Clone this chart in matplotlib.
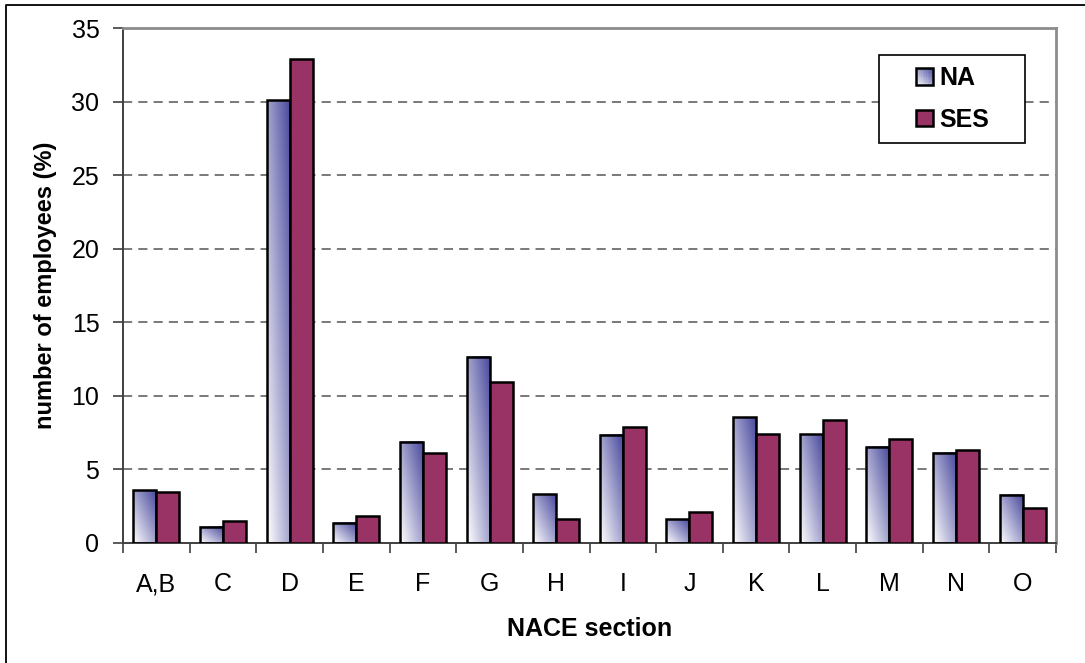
import numpy as np
import matplotlib
matplotlib.use("Agg")
import matplotlib.pyplot as plt
from matplotlib.colors import LinearSegmentedColormap
from matplotlib.patches import Rectangle
from matplotlib.lines import Line2D
from matplotlib.legend_handler import HandlerBase

plt.rcParams["font.family"] = ["Liberation Sans", "DejaVu Sans"]

# ─── Data ─────────────────────────────────────────────────────────────────────
sections = ["A,B", "C", "D", "E", "F", "G", "H", "I", "J", "K", "L", "M", "N", "O"]
na_vals  = [3.6, 1.1, 30.1, 1.38, 6.89, 12.67, 3.31, 7.35, 1.6, 8.55, 7.4, 6.53, 6.12, 3.27]
ses_vals = [3.48, 1.5, 32.9, 1.84, 6.1, 10.95, 1.65, 7.87, 2.1, 7.4, 8.37, 7.05, 6.33, 2.38]
series_names = ["NA", "SES"]

SES_COLOR = "#993366"
NA_CMAP = LinearSegmentedColormap.from_list("na_grad", ["#ffffff", "#4a4a9e"])
BAR_W = 0.345
EDGE_W = 1.8

# diagonal gradient: white bottom-left -> blue top-right
gu, gv = np.meshgrid(np.linspace(0, 1, 64), np.linspace(0, 1, 64))
GRAD = (gu + gv) / 2


def _square(xdescent, ydescent, width, height):
    # square marker sits at the right end of the handle box
    side = height * 0.95
    return -xdescent + width - side, -ydescent + (height - side) / 2, side


class GradientHandler(HandlerBase):
    def create_artists(self, legend, orig_handle, xdescent, ydescent,
                       width, height, fontsize, trans):
        x0, y0, side = _square(xdescent, ydescent, width, height)
        n = 10
        arts = []
        for i in range(n):
            for j in range(n):
                t = ((i + 0.5) / n + (j + 0.5) / n) / 2
                arts.append(Rectangle((x0 + i * side / n, y0 + j * side / n),
                                      side / n, side / n, facecolor=NA_CMAP(t),
                                      edgecolor="none", transform=trans))
        arts.append(Rectangle((x0, y0), side, side, facecolor="none",
                              edgecolor="black", linewidth=EDGE_W, transform=trans))
        return arts


class SquareHandler(HandlerBase):
    def create_artists(self, legend, orig_handle, xdescent, ydescent,
                       width, height, fontsize, trans):
        x0, y0, side = _square(xdescent, ydescent, width, height)
        return [Rectangle((x0, y0), side, side, facecolor=SES_COLOR,
                          edgecolor="black", linewidth=EDGE_W, transform=trans)]


fig = plt.figure(figsize=(10.85, 6.63), dpi=100)
ax = fig.add_axes([123 / 1085, 120 / 663, (1056 - 123) / 1085, (543 - 28) / 663])

x = np.arange(len(sections))

for xi, h in zip(x, na_vals):
    ax.imshow(GRAD, cmap=NA_CMAP, vmin=0, vmax=1, origin="lower",
              extent=(xi - BAR_W, xi, 0, h), aspect="auto",
              interpolation="bilinear", zorder=2)
ax.bar(x - BAR_W / 2, na_vals, BAR_W, facecolor="none", edgecolor="black",
       linewidth=EDGE_W, zorder=3)
ax.bar(x + BAR_W / 2, ses_vals, BAR_W, facecolor=SES_COLOR, edgecolor="black",
       linewidth=EDGE_W, zorder=3)

ax.set_xlim(-0.5, len(sections) - 0.5)
ax.set_ylim(0, 35)
ax.set_yticks(range(0, 36, 5))
ax.tick_params(axis="y", labelsize=18, length=7, width=1.2, color="#404040", pad=10)

ax.set_xticks(x)
ax.set_xticklabels(sections, fontsize=18)
ax.set_xticks(np.arange(-0.5, len(sections)), minor=True)
ax.tick_params(axis="x", which="major", length=0, pad=21)
ax.tick_params(axis="x", which="minor", length=7, width=1.2, color="#404040")

ax.set_xlabel("NACE section", fontsize=18, fontweight="bold", labelpad=15)
ax.set_ylabel("number of employees (%)", fontsize=17, fontweight="bold", labelpad=10)

for yv in range(5, 35, 5):
    ax.axhline(yv, color="#555555", linewidth=1.1, linestyle=(0, (6, 4)), zorder=1)

ax.spines["left"].set_color("#404040")
ax.spines["bottom"].set_color("#404040")
ax.spines["left"].set_linewidth(1.4)
ax.spines["bottom"].set_linewidth(1.4)
for side in ("top", "right"):
    ax.spines[side].set_color("#8c8c8c")
    ax.spines[side].set_linewidth(2)

handles = [Rectangle((0, 0), 1, 1), Line2D([], [])]
leg_x0 = (879 - 123) / 933
leg_w = (1025 - 879) / 933
leg_top = (543 - 55) / 515
leg_h = (145 - 55) / 515
leg = ax.legend(handles, series_names,
                handler_map={handles[0]: GradientHandler(), handles[1]: SquareHandler()},
                loc="upper left", bbox_to_anchor=(leg_x0, leg_top - leg_h, leg_w, leg_h),
                mode="expand", prop={"size": 18, "weight": "bold"}, frameon=True,
                fancybox=False, edgecolor="black", framealpha=1,
                handlelength=1.7, handleheight=0.72, handletextpad=0.28,
                labelspacing=0.7, borderpad=0.45, borderaxespad=0)
leg.get_frame().set_linewidth(1.2)
leg.set_zorder(5)

# outer chart frame (top and left edges)
fig.add_artist(Line2D([6 / 1085, 6 / 1085, 1.01], [-0.01, 1 - 5 / 663, 1 - 5 / 663],
                      transform=fig.transFigure, color="black", linewidth=1.3))

fig.savefig("out.png", dpi=100)
